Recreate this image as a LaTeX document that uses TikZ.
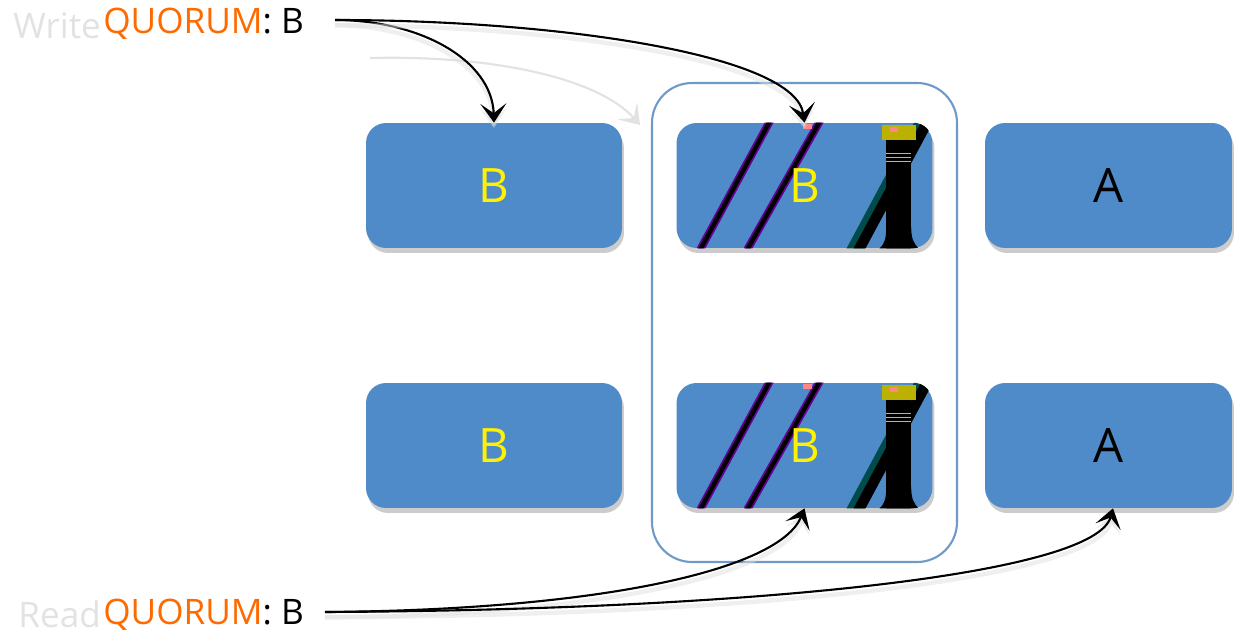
\documentclass[tikz,border=0pt]{standalone}
\usepackage{fontspec}
\setmainfont{Open Sans}
\usetikzlibrary{arrows.meta,shadows,positioning}

\definecolor{boxblue}{HTML}{4F8AC9}
\definecolor{quorumorange}{HTML}{FF6A00}
\definecolor{rim}{HTML}{6E99C9}
\definecolor{ghostgray}{HTML}{E2E2E2}

\newcommand{\boxwidth}{5.12cm}
\newcommand{\boxheight}{2.5cm}

% dark smears across a replica box, in pixel units from its top-left corner
\newcommand{\smear}[1]{%
  \begin{scope}
    \clip[rounded corners=0.4cm] (#1.north west) rectangle (#1.south east);
    \begin{scope}[shift={(#1.north west)}]
      \draw[violet!80!blue, line width=4.5pt] (24,127) -- (94,-2);
      \draw[black, line width=2.5pt] (24,127) -- (94,-2);
      \draw[violet!80!blue, line width=4.5pt] (71,127) -- (144,-2);
      \draw[black, line width=2.5pt] (71,127) -- (144,-2);
      \draw[teal!60!black, line width=9pt] (176,132) -- (250,-6);
      \draw[black, line width=6pt] (180,132) -- (254,-6);
      \fill[black] (210,17) rectangle (235,126);
      \fill[black] (203,126) .. controls (209,121) and (210,115) .. (210,104)
        -- (235,104) .. controls (235,115) and (237,121) .. (243,126) -- cycle;
      \fill[olive!60!yellow] (206,2) rectangle (240,17);
      \fill[pink!70!red] (214,4) rectangle (222,9);
      \fill[pink!70!red] (127,1) rectangle (136,6);
      \draw[gray!60, line width=0.8pt] (210,31) -- (235,31) (210,35) -- (235,35)
        (210,39) -- (235,39);
    \end{scope}
  \end{scope}}

\tikzset{
  replica/.style={rectangle, rounded corners=0.4cm,
    minimum width=\boxwidth, minimum height=\boxheight, fill=boxblue,
    drop shadow={shadow xshift=0.04cm, shadow yshift=-0.1cm, opacity=0.4},
    font=\fontsize{27}{30}\selectfont, text=yellow},
  stale/.style={replica, text=black, minimum width=4.94cm},
  boxtext/.style={font=\fontsize{27}{30}\selectfont, text=yellow},
  quorum/.style={font=\fontsize{20}{24}\selectfont, inner sep=0pt},
  ghost/.style={quorum, text=ghostgray},
  chevron/.style={-{Stealth[length=3.8mm, width=5.2mm, inset=1.9mm]}},
  link/.style={chevron, line width=1.2pt,
    preaction={draw=black!12, opacity=0.5, line width=2.5pt,
      transform canvas={yshift=-3pt}}}
}

\begin{document}
\begin{tikzpicture}[x=0.02cm, y=-0.02cm]
  \useasboundingbox (0,0) rectangle (1235,636);

  % quorum group around the middle column
  \draw[rim, line width=1.2pt, rounded corners=0.8cm] (652,83) rectangle (957,562);

  % replicas: top row written, bottom row read
  \node[replica] (lw) at (494,185.5) {B};
  \node[replica] (mw) at (804.5,185.5) {};
  \smear{mw}
  \node[boxtext] (mwb) at (mw.center) {B};
  \node[stale]   (rw) at (1108.5,185.5) {A};
  \node[replica] (lr) at (494,445.5) {B};
  \node[replica] (mr) at (804.5,445.5) {};
  \smear{mr}
  \node[boxtext] (mrb) at (mr.center) {B};
  \node[stale]   (rr) at (1108.5,445.5) {A};

  % write side
  \node[quorum, anchor=base west] (wq) at (103,33)
    {\textcolor{quorumorange}{QUORUM}: B};
  \node[ghost, anchor=base east] (wg) at ([xshift=-1pt, yshift=-3pt]wq.base west) {Write};
  \coordinate (ws) at (335,20);
  \coordinate (gs) at (370,58);
  \coordinate (ge) at (640,125);

  \draw[chevron, ghostgray, line width=1.2pt] (gs) .. controls (500,55) and (600,80) .. (ge);
  \draw[link] (ws) .. controls (420,20) and (492,60) .. (lw.north);
  \draw[link] (ws) .. controls (560,20) and (795,55) .. (mw.north);

  % read side
  \node[quorum, anchor=base west] (rq) at (103,624)
    {\textcolor{quorumorange}{QUORUM}: B};
  \node[ghost, anchor=base east] (rg) at ([xshift=-1pt, yshift=-2pt]rq.base west) {Read};
  \coordinate (rs) at (325,612);

  \draw[link] (rs) .. controls (600,610) and (780,570) .. (mr.south);
  \draw[link] (rs) .. controls (750,610) and (1095,575) .. ([xshift=0.09cm]rr.south);
\end{tikzpicture}
\end{document}
